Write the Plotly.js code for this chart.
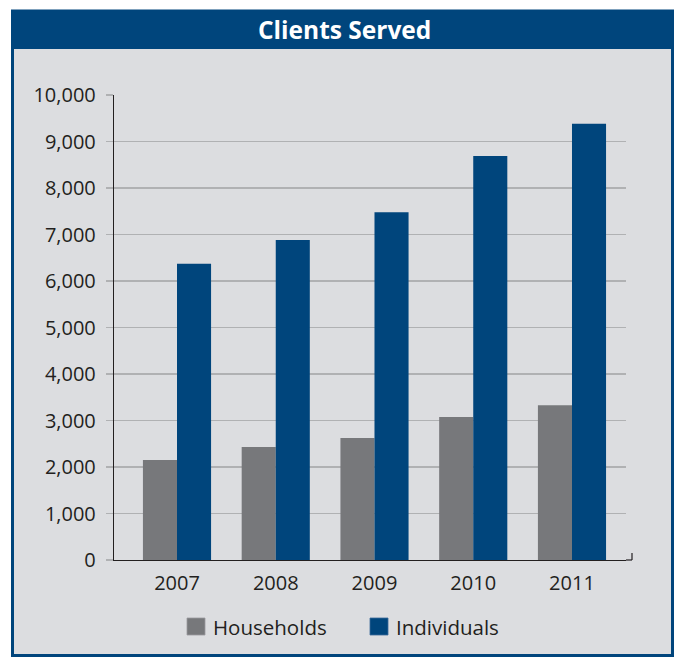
<!DOCTYPE html>
<html>
<head>
<meta charset="utf-8">
<script src="https://cdn.plot.ly/plotly-3.0.1.min.js"></script>
<style>
html,body{margin:0;padding:0;background:#ffffff;}
#chart{width:675px;height:658px;}
</style>
</head>
<body>
<div id="chart"></div>
<script>
var years = ["2007", "2008", "2009", "2010", "2011"];
var seriesNames = ["Households", "Individuals"];
var households = [2150, 2430, 2625, 3075, 3330];
var individuals = [6370, 6880, 7480, 8690, 9380];
var yTickVals = [0, 1000, 2000, 3000, 4000, 5000, 6000, 7000, 8000, 9000, 10000];
var yTickText = ["0", "1,000", "2,000", "3,000", "4,000", "5,000", "6,000", "7,000", "8,000", "9,000", "10,000"];
var chartTitle = "Clients Served";

var W = 675, H = 658;
var mL = 114, mR = 49, mT = 95, mB = 98;
var pw = W - mL - mR, ph = H - mT - mB;
function px(x){ return (x - mL) / pw; }
function py(y){ return (H - mB - y) / ph; }

var BLUE = "#00457c", GREY = "#77787b", PANEL = "#dcdde0", TXT = "#231f20";
var FONT = "Open Sans, Noto Sans, sans-serif";

var traces = [
  {type:"bar", name:seriesNames[0], x:years, y:households, marker:{color:GREY}, hoverinfo:"x+y"},
  {type:"bar", name:seriesNames[1], x:years, y:individuals, marker:{color:BLUE}, hoverinfo:"x+y"}
];

var shapes = [
  {type:"rect", xref:"paper", yref:"paper", x0:px(11), x1:px(674), y0:py(9.5), y1:py(657), fillcolor:BLUE, line:{width:0}, layer:"below"},
  {type:"rect", xref:"paper", yref:"paper", x0:px(14), x1:px(671), y0:py(49), y1:py(654), fillcolor:PANEL, line:{width:0}, layer:"below"},
  // x axis continuation and right end tick
  {type:"line", xref:"paper", yref:"paper", x0:1, x1:px(632), y0:0, y1:0, line:{color:TXT, width:1.2}},
  {type:"line", xref:"paper", yref:"paper", x0:px(632), x1:px(632), y0:0, y1:py(553), line:{color:TXT, width:1.2}},
  // legend swatches
  {type:"rect", xref:"paper", yref:"paper", x0:px(187), x1:px(205), y0:py(618), y1:py(635), fillcolor:GREY, line:{color:"#9a9b9e", width:0.8}},
  {type:"rect", xref:"paper", yref:"paper", x0:px(370), x1:px(388), y0:py(618), y1:py(635), fillcolor:BLUE, line:{color:"#3a6a9a", width:0.8}}
];

var annotations = [
  {xref:"paper", yref:"paper", x:px(344), y:py(29), text:"<b>" + chartTitle + "</b>", showarrow:false, xanchor:"center", yanchor:"middle", font:{family:FONT, size:24.5, color:"#ffffff"}},
  {xref:"paper", yref:"paper", x:px(211), y:py(627), text:seriesNames[0], showarrow:false, xanchor:"left", yanchor:"middle", font:{family:FONT, size:20.5, color:TXT}},
  {xref:"paper", yref:"paper", x:px(394), y:py(627), text:seriesNames[1], showarrow:false, xanchor:"left", yanchor:"middle", font:{family:FONT, size:20.5, color:TXT}}
];

var layout = {
  width: W, height: H,
  margin: {l:mL, r:mR, t:mT, b:mB, pad:0},
  paper_bgcolor: "#ffffff",
  plot_bgcolor: "rgba(0,0,0,0)",
  barmode: "group",
  bargap: 0.31,
  bargroupgap: 0,
  showlegend: false,
  font: {family:FONT, color:TXT, size:20},
  xaxis: {
    type:"category",
    range:[-0.638, 4.547],
    showline:true, linecolor:TXT, linewidth:1.2,
    ticks:"", showgrid:false, zeroline:false,
    tickfont:{family:FONT, size:20, color:TXT},
    ticklabelstandoff: 5,
    fixedrange:true
  },
  yaxis: {
    range:[0, 10000],
    tickvals: yTickVals, ticktext: yTickText,
    showline:true, linecolor:TXT, linewidth:1.2,
    ticks:"outside", ticklen:7, tickcolor:"#b0b1b3", tickwidth:1.1,
    showgrid:true, gridcolor:"#b0b1b3", gridwidth:1.1,
    zeroline:false,
    tickfont:{family:FONT, size:20, color:TXT},
    ticklabelstandoff: 6,
    fixedrange:true
  },
  shapes: shapes,
  annotations: annotations
};

Plotly.newPlot("chart", traces, layout, {displayModeBar:false, staticPlot:true});
</script>
</body>
</html>
